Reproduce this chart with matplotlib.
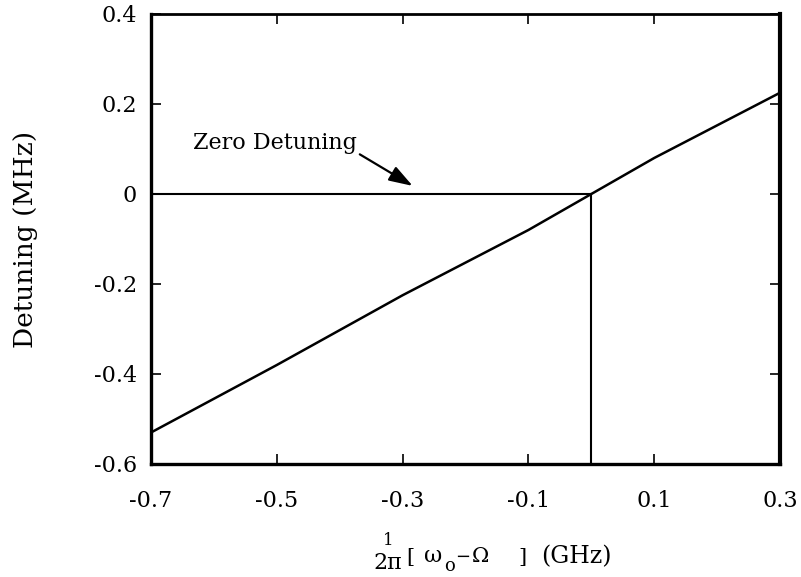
import matplotlib
matplotlib.use("Agg")
import matplotlib.pyplot as plt

plt.rcParams['font.family'] = ['DejaVu Serif']

# Data
x_vals = [-0.7, -0.5, -0.3, -0.1, 0.0, 0.1, 0.3]
y_vals = [-0.53, -0.38, -0.225, -0.08, 0.0, 0.08, 0.225]
x_ticks = [-0.7, -0.5, -0.3, -0.1, 0.1, 0.3]
x_ticklabels = ['-0.7', '-0.5', '-0.3', '-0.1', '0.1', '0.3']
y_ticks = [-0.6, -0.4, -0.2, 0.0, 0.2, 0.4]
y_ticklabels = ['-0.6', '-0.4', '-0.2', '0', '0.2', '0.4']
zero_x = 0.0
zero_y = 0.0

W, H = 801, 577
fig = plt.figure(figsize=(W / 100, H / 100), dpi=100)
ax = fig.add_axes([151 / W, 1 - 464 / H, (780 - 151) / W, (464 - 14) / H])

ax.plot(x_vals, y_vals, color='black', lw=1.8)
ax.plot([-0.7, zero_x], [zero_y, zero_y], color='black', lw=1.5)
ax.plot([zero_x, zero_x], [-0.6, zero_y], color='black', lw=1.5)

ax.set_xlim(-0.7, 0.3)
ax.set_ylim(-0.6, 0.4)
ax.set_xticks(x_ticks)
ax.set_xticklabels(x_ticklabels)
ax.set_yticks(y_ticks)
ax.set_yticklabels(y_ticklabels)
ax.tick_params(direction='in', length=7, width=1.2, top=True, right=True,
               labelsize=16)
ax.tick_params(axis='x', pad=19)
ax.tick_params(axis='y', pad=10)
for side, lw in [('left', 2.4), ('bottom', 2.4), ('top', 2.0), ('right', 3.0)]:
    ax.spines[side].set_linewidth(lw)

ax.set_ylabel('Detuning (MHz)', fontsize=19, labelpad=40)

ax.annotate('Zero Detuning', xy=(-0.284, 0.018), xytext=(-0.633, 0.113),
            fontsize=16, va='center', ha='left',
            arrowprops=dict(arrowstyle='-|>,head_length=0.9,head_width=0.3',
                            color='black', lw=1.6, shrinkA=0, shrinkB=0,
                            relpos=(0.97, 0.2)))

# x-axis label assembled from pieces
def ft(px, py, s, **kw):
    fig.text(px / W, 1 - py / H, s, **kw)

ft(388, 545, '1', fontsize=12, ha='center', va='baseline')
ft(373, 569, '2π', fontsize=16, ha='left', va='baseline')
ft(406, 563, '[', fontsize=15, ha='left', va='baseline')
ft(424, 562, 'ω', fontsize=16, ha='left', va='baseline')
ft(444, 571, 'o', fontsize=13, ha='left', va='baseline')
ft(455, 562, '−', fontsize=13, ha='left', va='baseline')
ft(472, 562, 'Ω', fontsize=15, ha='left', va='baseline')
ft(518, 563, ']', fontsize=15, ha='left', va='baseline')
ft(541, 563, '(GHz)', fontsize=17, ha='left', va='baseline')

fig.savefig('out.png', dpi=100)
